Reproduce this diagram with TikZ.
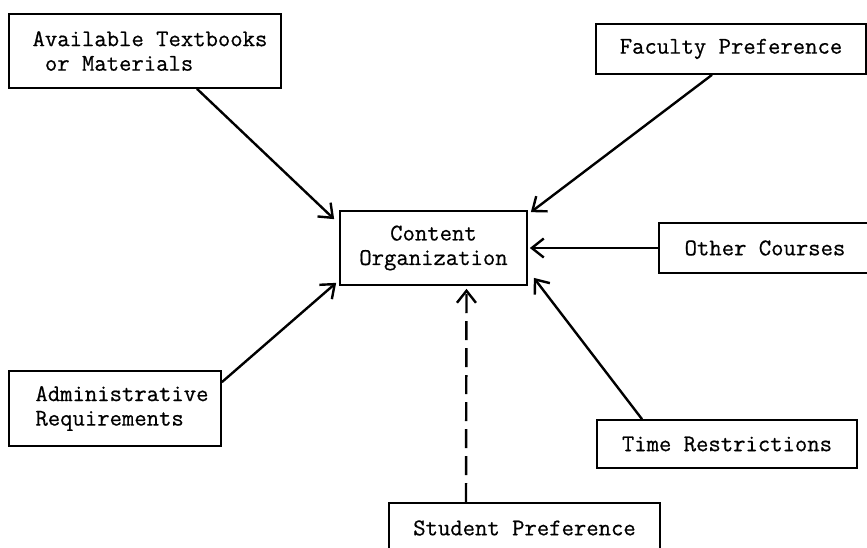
\documentclass[tikz,border=0pt]{standalone}
\usepackage{fontspec}
\newfontfamily\typewriter{Latin Modern Mono}[FakeBold=0.6]
\usetikzlibrary{arrows.meta}
\newcommand\indentby[1]{\hspace*{#1}}
\begin{document}
\begin{tikzpicture}[x=1pt, y=-1pt,
  factor/.style={draw, line width=1.7pt, rectangle, inner sep=0pt,
    font=\typewriter\fontsize{24}{24.5}\selectfont},
  link/.style={line width=2.4pt, -{Straight Barb[length=12pt,width=19pt,line width=2.4pt]}},
  weaklink/.style={link, dash pattern=on 19pt off 8pt}]
  \useasboundingbox (0,0) rectangle (867,548);
  \clip (0,0) rectangle (867,548);

  % factor boxes
  \node[factor, minimum width=272pt, minimum height=74pt, align=left]
    (avail) at (145,51) {\indentby{10pt}Available Textbooks\\\indentby{10pt}\phantom{x}or Materials};
  \node[factor, minimum width=270pt, minimum height=50pt]
    (faculty) at (731,49) {Faculty Preference};
  \node[factor, minimum width=187pt, minimum height=74pt, align=center]
    (content) at (433.5,248) {Content\\Organization};
  \node[factor, minimum width=212pt, minimum height=50pt]
    (other) at (765,248) {Other Courses};
  \node[factor, minimum width=212pt, minimum height=75pt, align=left]
    (admin) at (115,408.5) {\indentby{14pt}Administrative\\\indentby{14pt}Requirements};
  \node[factor, minimum width=260pt, minimum height=48pt]
    (time) at (727,444) {Time Restrictions};
  \node[factor, minimum width=271pt, minimum height=50pt]
    (student) at (524.5,528) {Student Preference};

  % influences on content organization
  \draw[link] ([xshift=52pt]avail.south) -- ([xshift=-5pt,yshift=-9pt]content.north west);
  \draw[link] ([xshift=-19pt]faculty.south) -- ([xshift=3pt,yshift=-2pt]content.north east);
  \draw[link] (other.west) -- ([xshift=2pt]content.east);
  \draw[link] ([yshift=-12pt]admin.north east) -- ([xshift=-3pt,yshift=3pt]content.south west);
  \draw[link] ([xshift=-85pt]time.north) -- ([xshift=6pt,yshift=8pt]content.south east);
  \draw[weaklink] ([xshift=-58.5pt]student.north) -- ([xshift=33pt,yshift=-3pt]content.south);
\end{tikzpicture}
\end{document}
